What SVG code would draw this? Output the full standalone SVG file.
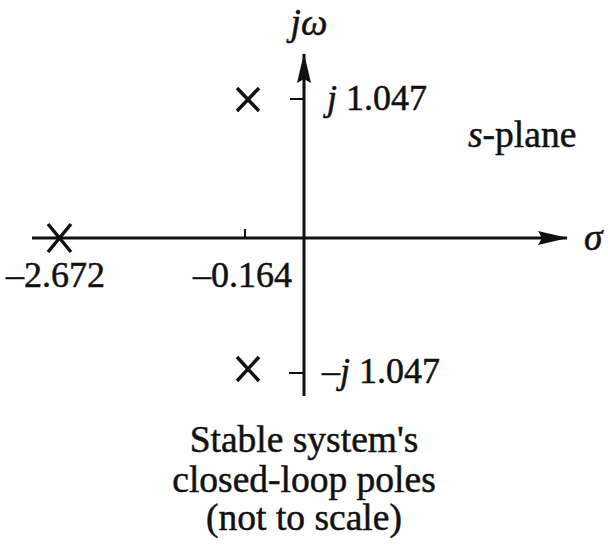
<svg xmlns="http://www.w3.org/2000/svg" width="608" height="553" viewBox="0 0 608 553">
<style>
  .t { font-family: "Liberation Serif", "Times New Roman", serif; font-size: 37.5px; fill: #111; stroke: #111; stroke-width: 0.5; }
  .n { font-size: 36px; }
  .i { font-style: italic; }
  .ax { stroke: #111; stroke-width: 3; fill: none; }
  .tick { stroke: #111; stroke-width: 2; fill: none; }
  .pole { stroke: #111; stroke-width: 3.5; fill: none; }
</style>
<defs>
  <marker id="arrh" markerWidth="30" markerHeight="14" refX="29" refY="7" orient="auto" markerUnits="userSpaceOnUse" viewBox="0 0 30 14">
    <path d="M0,0 L30,7 L0,14 L4,7 Z" fill="#111"/>
  </marker>
</defs>
<rect width="608" height="553" fill="#fff"/>
<g id="connectors">
  <line id="sigma-axis" class="ax" x1="32" y1="238" x2="567" y2="238" marker-end="url(#arrh)"/>
  <line id="jw-axis" class="ax" x1="304" y1="396" x2="304" y2="54" marker-end="url(#arrh)"/>
  <line class="tick" x1="290" y1="99" x2="304" y2="99"/>
  <line class="tick" x1="289" y1="373" x2="304" y2="373"/>
  <line class="tick" x1="245" y1="229" x2="245" y2="238"/>
</g>
<g id="pole-top">
  <path class="pole" d="M237,88 L259,111 M259,88 L237,111"/>
</g>
<g id="pole-bottom">
  <path class="pole" d="M237,357 L259,381 M259,357 L237,381"/>
</g>
<g id="pole-left">
  <path class="pole" d="M48,224 L71,252 M71,224 L48,252"/>
</g>
<g id="labels">
  <text class="t" x="309" y="35" text-anchor="middle"><tspan class="i">jω</tspan></text>
  <text class="t n" x="327" y="110"><tspan class="i">j</tspan> 1.047</text>
  <text class="t n" x="322" y="383">–<tspan class="i">j</tspan> 1.047</text>
  <text class="t" x="468" y="147"><tspan class="i">s</tspan>-plane</text>
  <text class="t i" x="584" y="250">σ</text>
  <text class="t n" x="6" y="287">–2.672</text>
  <text class="t n" x="193" y="287">–0.164</text>
  <text class="t" x="304" y="452" text-anchor="middle">Stable system's</text>
  <text class="t" x="304" y="492" text-anchor="middle">closed-loop poles</text>
  <text class="t" x="304" y="530" text-anchor="middle">(not to scale)</text>
</g>
</svg>
